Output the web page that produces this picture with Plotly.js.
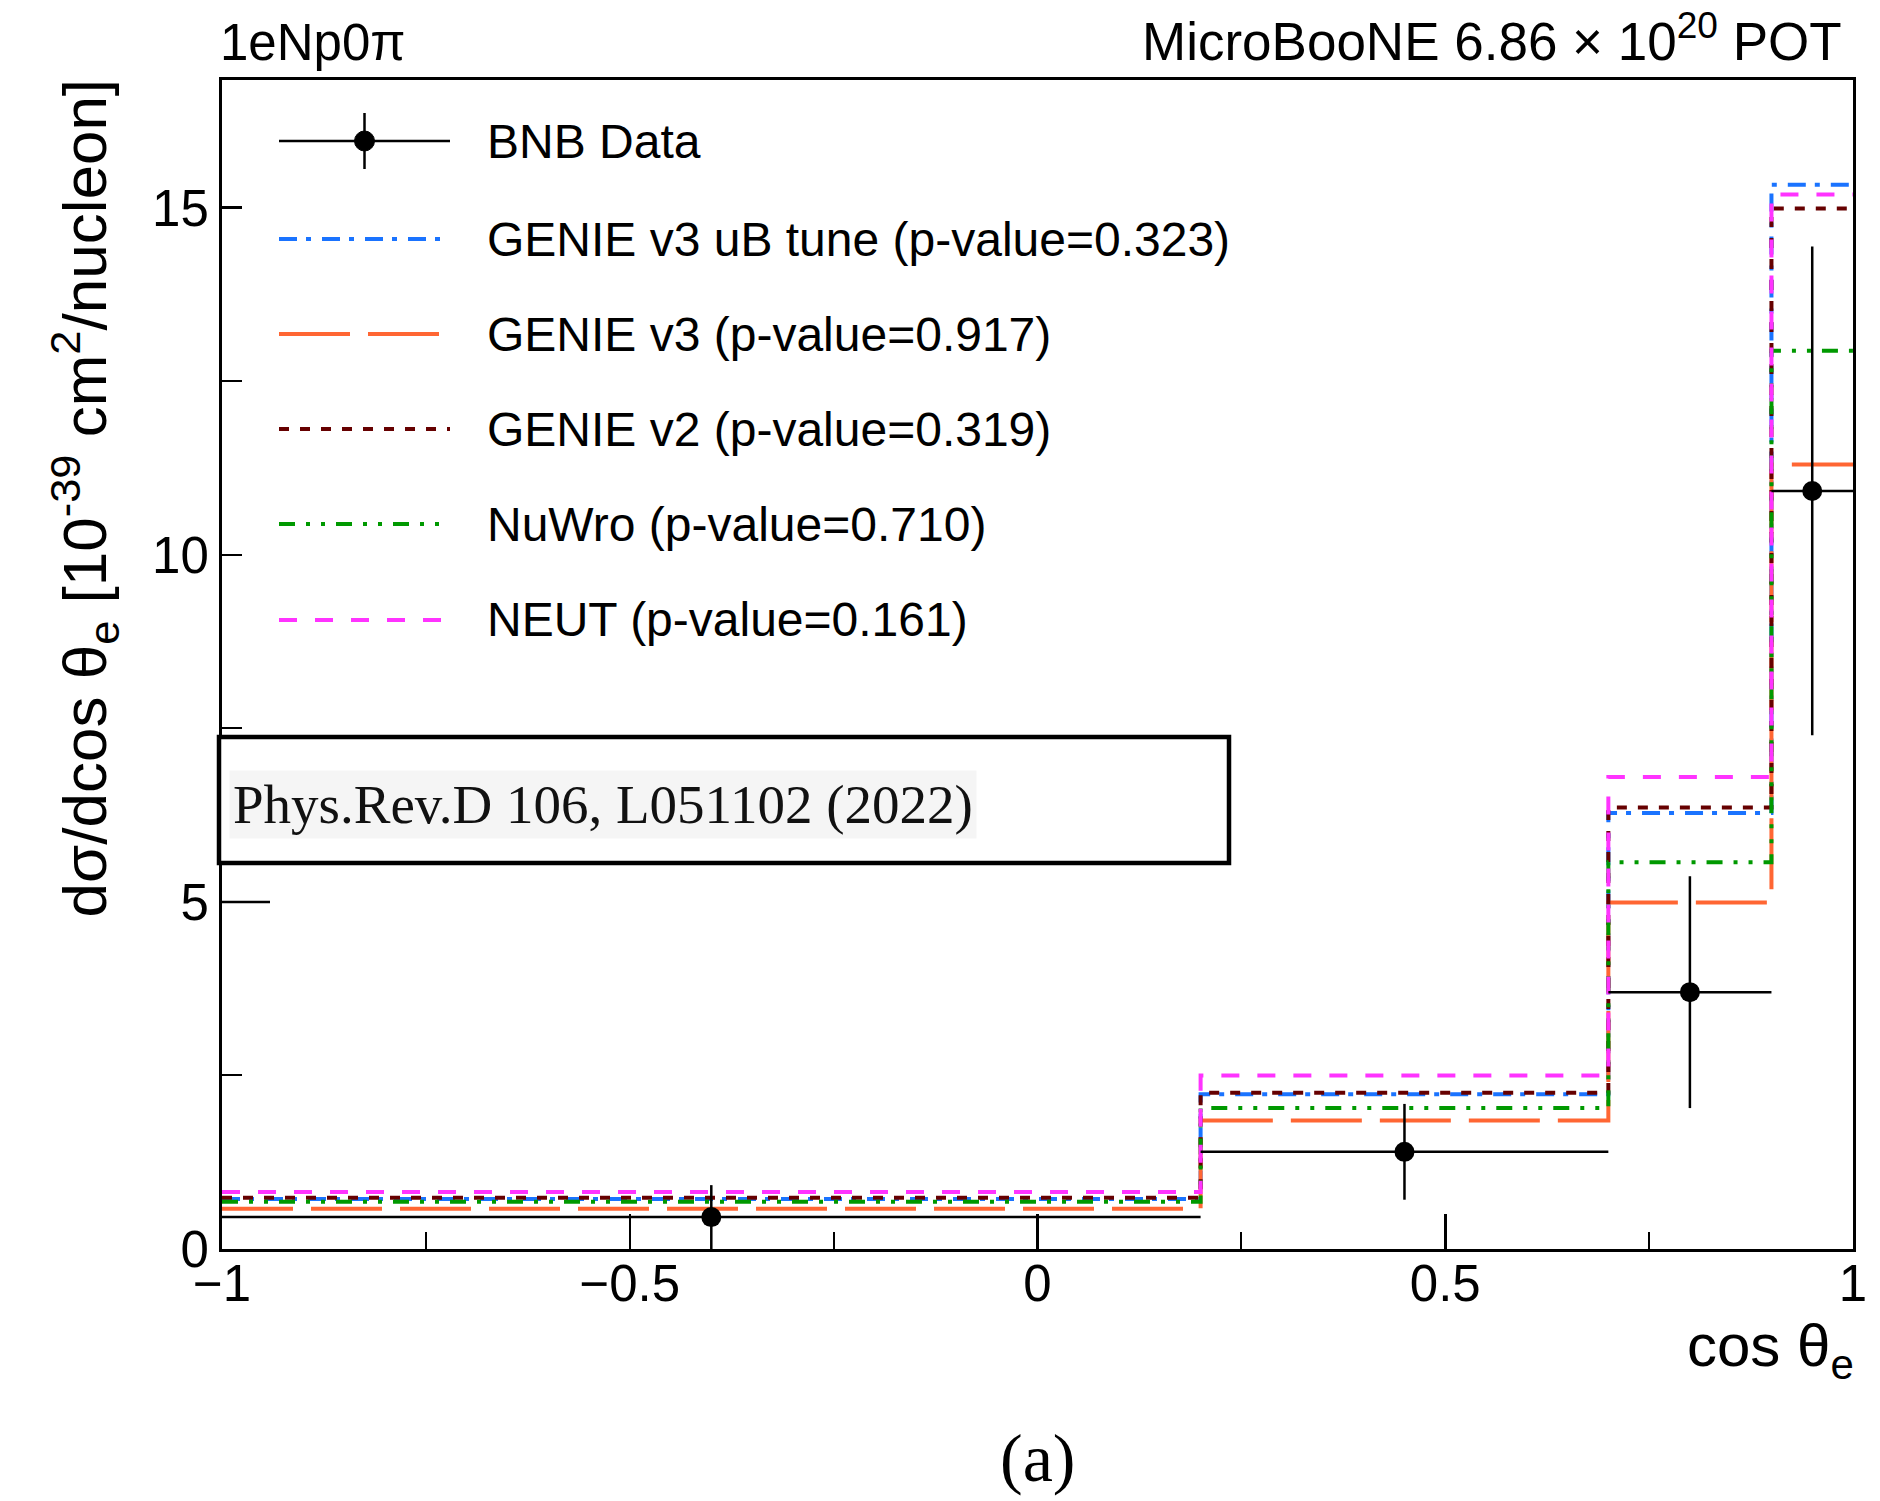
<!DOCTYPE html>
<html><head><meta charset="utf-8">
<script src="https://cdn.plot.ly/plotly-3.0.1.min.js"></script>
<style>body{margin:0;background:#fff}</style>
</head><body><div id="chart" style="width:1880px;height:1501px"></div>
<script>
// ---- data ----
const binEdges = [-1, 0.2, 0.7, 0.9, 1.0];
const dataY   = [0.46, 1.40, 3.70, 10.92];
const dataErr = [0.46, 0.69, 1.67, 3.52];
const genieUB = [0.72, 2.23, 6.28, 15.33];
const genieV3 = [0.58, 1.85, 4.99, 11.30];
const genieV2 = [0.74, 2.25, 6.36, 14.99];
const nuwro   = [0.68, 2.03, 5.57, 12.94];
const neut    = [0.82, 2.50, 6.80, 15.19];
const dataLabel = 'BNB Data';
const modelLabels = ['GENIE v3 uB tune (p-value=0.323)', 'GENIE v3 (p-value=0.917)',
  'GENIE v2 (p-value=0.319)', 'NuWro (p-value=0.710)', 'NEUT (p-value=0.161)'];
const xTickVals = [-1, -0.5, 0, 0.5, 1];
const xTickText = ['−1', '−0.5', '0', '0.5', '1'];
const yTickVals = [0, 5, 10, 15];

// ---- styles ----
const models = [
  {y: genieUB, color: '#1a73ff', dash: '18px,9px,5px,11px'},
  {y: genieV3, color: '#ff6633', dash: '71px,18px'},
  {y: genieV2, color: '#660000', dash: '10px,11px'},
  {y: nuwro,   color: '#009900', dash: '16px,11px,4px,11px,4px,11px'},
  {y: neut,    color: '#ff33ff', dash: '18px,18px'}
];
const W = 1880, H = 1501, L = 222, R = 1853, T = 80, B = 1249;
const px = v => (v - L) / (R - L);
const py = v => (B - v) / (B - T);
const SANS = 'Liberation Sans, Arial, Helvetica, sans-serif';
const SERIF = 'Liberation Serif, Times New Roman, serif';

const centers = binEdges.slice(0, -1).map((e, i) => (e + binEdges[i + 1]) / 2);
const halfW = binEdges.slice(0, -1).map((e, i) => (binEdges[i + 1] - e) / 2);

const traces = models.map((m, i) => ({
  type: 'scatter', mode: 'lines', name: modelLabels[i], showlegend: false,
  x: binEdges, y: m.y.concat([m.y[m.y.length - 1]]),
  line: {shape: 'hv', color: m.color, width: 4, dash: m.dash},
  hoverinfo: 'skip'
}));
traces.push({
  type: 'scatter', mode: 'markers', name: dataLabel, showlegend: false,
  x: centers, y: dataY,
  marker: {color: 'black', size: 20, symbol: 'circle'},
  error_y: {type: 'data', array: dataErr, visible: true, color: 'black', thickness: 2.5, width: 0},
  error_x: {type: 'data', array: halfW, visible: true, color: 'black', thickness: 2.5, width: 0}
});

// ---- manual legend ----
const rowY = [141, 239, 334, 429, 524, 620];
const sx0 = 279, sx1 = 450, tx = 485;
const shapes = [];
const annotations = [];
shapes.push({type: 'line', xref: 'paper', yref: 'paper', x0: px(sx0), x1: px(sx1), y0: py(rowY[0]), y1: py(rowY[0]),
  line: {color: 'black', width: 2.5}});
shapes.push({type: 'line', xref: 'paper', yref: 'paper', x0: px((sx0 + sx1) / 2), x1: px((sx0 + sx1) / 2),
  y0: py(rowY[0] - 28), y1: py(rowY[0] + 28), line: {color: 'black', width: 2.5}});
shapes.push({type: 'circle', xref: 'paper', yref: 'paper', x0: px((sx0 + sx1) / 2 - 10), x1: px((sx0 + sx1) / 2 + 10),
  y0: py(rowY[0] - 10), y1: py(rowY[0] + 10), fillcolor: 'black', line: {color: 'black', width: 1}});
annotations.push({xref: 'paper', yref: 'paper', x: px(tx), y: py(rowY[0]), xanchor: 'left', yanchor: 'middle',
  text: dataLabel, showarrow: false, font: {family: SANS, size: 48, color: 'black'}});
models.forEach((m, i) => {
  const yy = rowY[i + 1];
  shapes.push({type: 'line', xref: 'paper', yref: 'paper', x0: px(sx0), x1: px(sx1), y0: py(yy), y1: py(yy),
    line: {color: m.color, width: 4, dash: m.dash}});
  annotations.push({xref: 'paper', yref: 'paper', x: px(tx), y: py(yy), xanchor: 'left', yanchor: 'middle',
    text: modelLabels[i], showarrow: false, font: {family: SANS, size: 48, color: 'black'}});
});

// longer tick at y = 5 seen in the reference
shapes.push({type: 'line', xref: 'paper', yref: 'y', x0: 0, x1: px(270), y0: 5, y1: 5,
  line: {color: 'black', width: 2.5}});

// Phys. Rev. box
shapes.push({type: 'rect', xref: 'paper', yref: 'paper', x0: px(219), x1: px(1229), y0: py(737), y1: py(863),
  line: {color: 'black', width: 4.5}, fillcolor: 'rgba(255,255,255,1)', layer: 'above'});
annotations.push({xref: 'paper', yref: 'paper', x: px(229), y: py(804), xanchor: 'left', yanchor: 'middle',
  text: 'Phys.Rev.D 106, L051102 (2022)', showarrow: false, bgcolor: '#f5f5f5', borderpad: 3,
  font: {family: SERIF, size: 55, color: '#111'}});

// titles & labels
annotations.push({xref: 'paper', yref: 'paper', x: px(84), y: py(77), xanchor: 'center', yanchor: 'top',
  textangle: -90, showarrow: false,
  text: 'dσ/dcos θ<sub>e</sub> [10<sup>-39</sup> cm<sup>2</sup>/nucleon]',
  font: {family: SANS, size: 62, color: 'black'}});
annotations.push({xref: 'paper', yref: 'paper', x: px(1856), y: py(1310), xanchor: 'right', yanchor: 'top',
  showarrow: false, text: 'cos θ<sub>e</sub>', font: {family: SANS, size: 60, color: 'black'}});
annotations.push({xref: 'paper', yref: 'paper', x: px(218), y: py(73), xanchor: 'left', yanchor: 'bottom',
  showarrow: false, text: '1eNp0π', font: {family: SANS, size: 51, color: 'black'}});
annotations.push({xref: 'paper', yref: 'paper', x: px(1844), y: py(73), xanchor: 'right', yanchor: 'bottom',
  showarrow: false, text: 'MicroBooNE 6.86 × 10<sup>20</sup> POT', font: {family: SANS, size: 53, color: 'black'}});
annotations.push({xref: 'paper', yref: 'paper', x: px(1037), y: py(1458), xanchor: 'center', yanchor: 'middle',
  showarrow: false, text: '(a)', font: {family: SERIF, size: 68, color: 'black'}});

const layout = {
  width: W, height: H,
  margin: {l: L, r: W - R, t: T, b: H - B, pad: 0},
  paper_bgcolor: 'white', plot_bgcolor: 'white',
  showlegend: false,
  xaxis: {
    range: [-1, 1], tickvals: xTickVals, ticktext: xTickText,
    ticks: 'inside', ticklen: 35, tickwidth: 2.5, tickcolor: 'black',
    ticklabelstandoff: -12,
    showline: true, linewidth: 3, linecolor: 'black', mirror: true,
    showgrid: false, zeroline: false,
    tickfont: {family: SANS, size: 51, color: 'black'},
    minor: {dtick: 0.25, tick0: -1, ticks: 'inside', ticklen: 17, tickwidth: 2, tickcolor: 'black', showgrid: false}
  },
  yaxis: {
    range: [0, 16.84], tickvals: yTickVals,
    ticks: 'inside', ticklen: 20, tickwidth: 2.5, tickcolor: 'black',
    showline: true, linewidth: 3, linecolor: 'black', mirror: true,
    showgrid: false, zeroline: false,
    tickfont: {family: SANS, size: 51, color: 'black'},
    minor: {dtick: 2.5, tick0: 0, ticks: 'inside', ticklen: 20, tickwidth: 2, tickcolor: 'black', showgrid: false}
  },
  shapes: shapes,
  annotations: annotations
};

Plotly.newPlot('chart', traces, layout, {displayModeBar: false, staticPlot: true});
</script>
</body></html>
